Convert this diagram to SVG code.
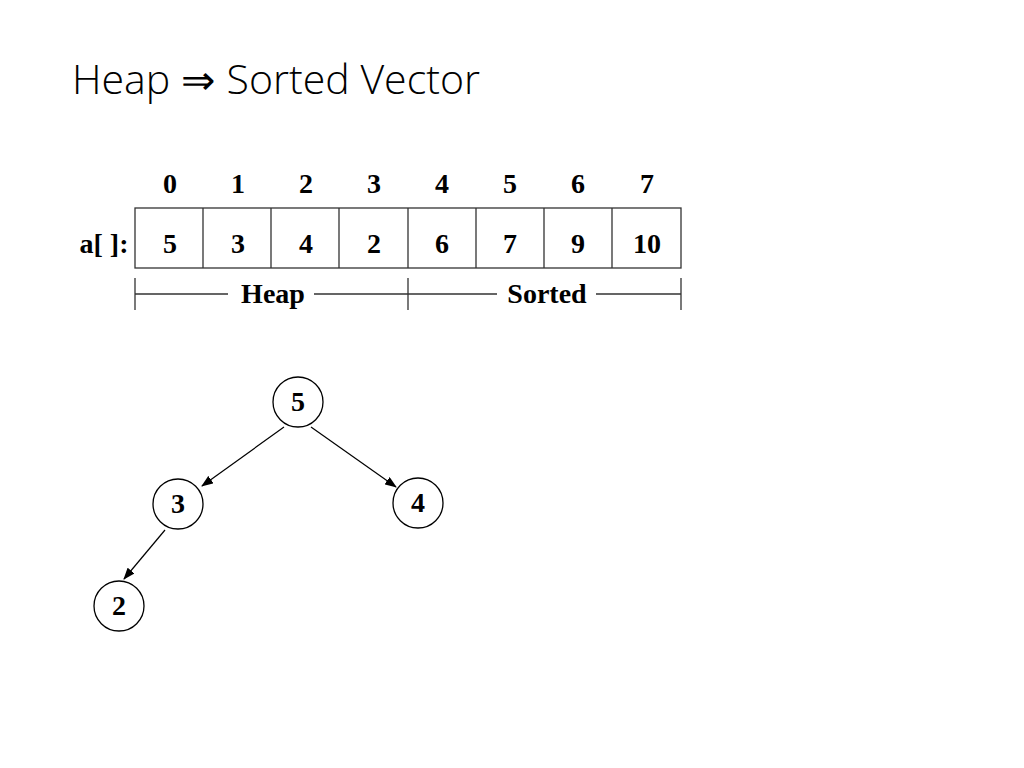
<svg xmlns="http://www.w3.org/2000/svg" width="1024" height="768" viewBox="0 0 1024 768">
<defs>
<marker id="arr" markerWidth="12" markerHeight="9" refX="11" refY="4.5" orient="auto" markerUnits="userSpaceOnUse">
<path d="M0,0 L12,4.5 L0,9 Z" fill="#000"/>
</marker>
<style>
.t{font-family:"Times New Roman","Liberation Serif",serif;font-weight:bold;font-size:28px;fill:#000;text-anchor:middle}
.cell{fill:#fff;stroke:#333;stroke-width:1.3}
.ln{stroke:#333;stroke-width:1.3;fill:none}
.node{fill:#fff;stroke:#000;stroke-width:1.3}
.edge{stroke:#000;stroke-width:1.2;fill:none;marker-end:url(#arr)}
</style>
</defs>
<rect width="1024" height="768" fill="#fff"/>
<text x="72" y="94" font-family="Open Sans, Lato, sans-serif" font-weight="300" font-size="40" fill="#000" textLength="408" lengthAdjust="spacingAndGlyphs">Heap ⇒ Sorted Vector</text>
<g id="indices">
<text class="t" x="170" y="193">0</text>
<text class="t" x="238" y="193">1</text>
<text class="t" x="306" y="193">2</text>
<text class="t" x="374" y="193">3</text>
<text class="t" x="442" y="193">4</text>
<text class="t" x="510" y="193">5</text>
<text class="t" x="578" y="193">6</text>
<text class="t" x="647" y="193">7</text>
</g>
<g id="array">
<text class="t" x="104" y="253">a[ ]:</text>
<rect class="cell" x="135" y="208" width="546" height="60"/>
<path class="ln" d="M203,208V268M271,208V268M339,208V268M408,208V268M476,208V268M544,208V268M612,208V268"/>
<text class="t" x="170" y="253">5</text>
<text class="t" x="238" y="253">3</text>
<text class="t" x="306" y="253">4</text>
<text class="t" x="374" y="253">2</text>
<text class="t" x="442" y="253">6</text>
<text class="t" x="510" y="253">7</text>
<text class="t" x="578" y="253">9</text>
<text class="t" x="647" y="253">10</text>
</g>
<g id="ranges">
<path class="ln" d="M135,278V310M408,278V310M681,278V310M135,294H228M314,294H408M408,294H497M596,294H681"/>
<text class="t" x="273" y="303">Heap</text>
<text class="t" x="547" y="303">Sorted</text>
</g>
<g id="connectors">
<line class="edge" x1="284" y1="427" x2="202" y2="486"/>
<line class="edge" x1="311" y1="427" x2="396" y2="487"/>
<line class="edge" x1="165" y1="530" x2="124" y2="579"/>
</g>
<g id="n5"><circle class="node" cx="298" cy="402" r="25"/><text class="t" x="298" y="411">5</text></g>
<g id="n3"><circle class="node" cx="178" cy="504" r="25"/><text class="t" x="178" y="513">3</text></g>
<g id="n4"><circle class="node" cx="418" cy="503" r="25"/><text class="t" x="418" y="512">4</text></g>
<g id="n2"><circle class="node" cx="119" cy="606" r="25"/><text class="t" x="119" y="615">2</text></g>
</svg>
